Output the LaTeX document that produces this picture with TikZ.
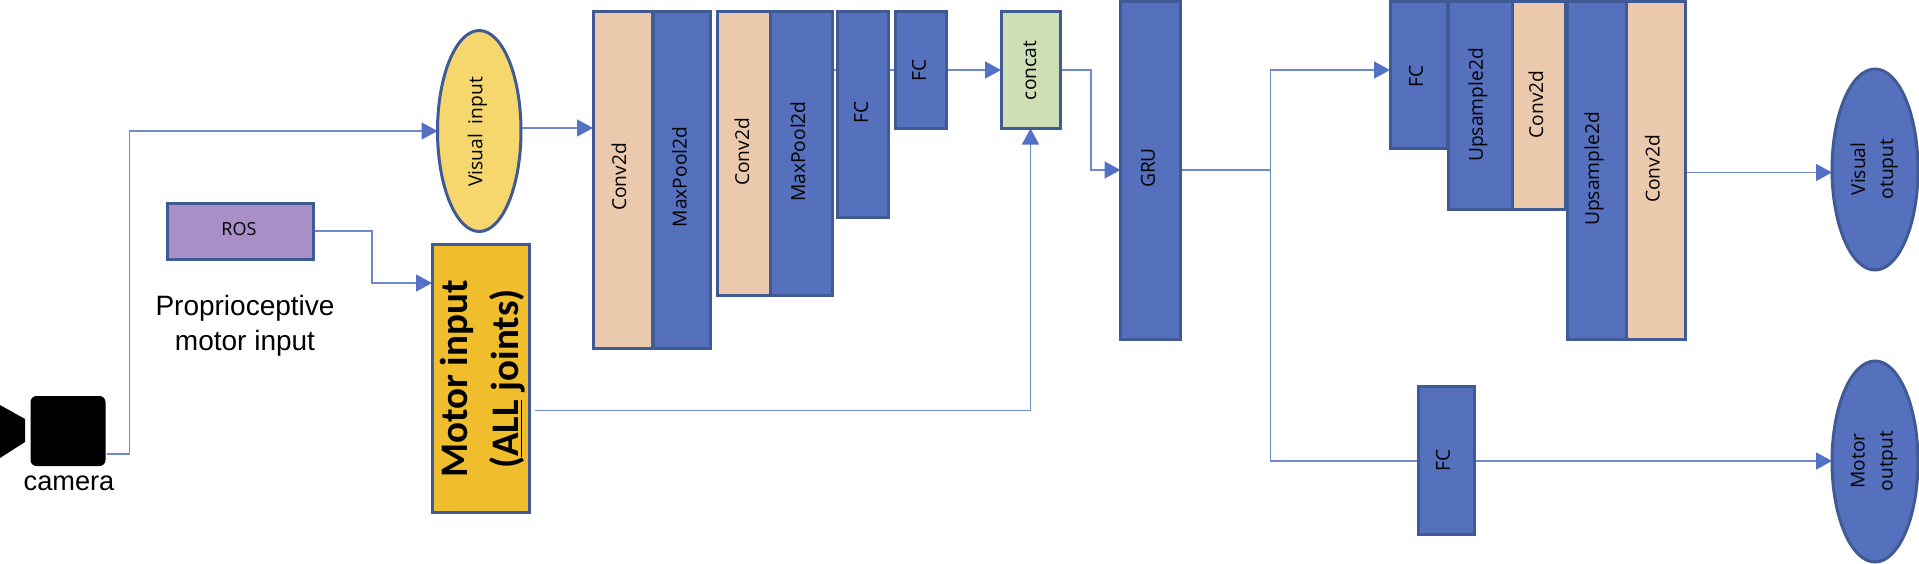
\documentclass[tikz,border=0pt]{standalone}
\usepackage{fontspec}
\setmainfont{Open Sans}
\newfontfamily\helv{Liberation Sans}
\newfontfamily\cali{Carlito}
\usetikzlibrary{arrows.meta,shapes.geometric,backgrounds}
\definecolor{blu}{HTML}{5571BE}
\definecolor{edge}{HTML}{3F5A94}
\definecolor{peach}{HTML}{EBC9AC}
\definecolor{grn}{HTML}{CFDFB5}
\definecolor{yel}{HTML}{F5D76E}
\definecolor{gold}{HTML}{F0BE2D}
\definecolor{purp}{HTML}{A98FC8}
\definecolor{wire}{HTML}{6F89CF}
\definecolor{tipc}{HTML}{5571C6}
\tikzset{
  blk/.style={draw=edge,line width=1.5pt,inner sep=0pt,outer sep=0pt,rectangle},
  ell/.style={draw=edge,line width=1.5pt,inner sep=0pt,outer sep=0pt,ellipse},
  lab/.style={rotate=90,inner sep=0pt,font=\fontsize{9.6}{11}\selectfont,align=center},
  conn/.style={draw=wire,line width=0.8pt},
  arr/.style={conn,-{Triangle[length=8pt,width=8.5pt,color=tipc]}},
}
% name, x0, y0, x1, y1, fill
\newcommand{\blkbox}[6]{\node[blk,fill=#6,minimum width=(#4-#2)*0.5pt,minimum height=(#5-#3)*0.5pt] (#1) at ({(#2+#4)/2},{(#3+#5)/2}) {};}
\newcommand{\ellbox}[6]{\node[ell,fill=#6,minimum width=(#4-#2)*0.5pt,minimum height=(#5-#3)*0.5pt] (#1) at ({(#2+#4)/2},{(#3+#5)/2}) {};}
\begin{document}
\begin{tikzpicture}[x=0.5pt,y=-0.5pt]
\useasboundingbox (0,0) rectangle (1919,563);
% boxes
\ellbox{vi}{437.5}{30.5}{521}{231.5}{yel}
\blkbox{ros}{167.5}{203}{313}{259}{purp}
\blkbox{mi}{432}{244}{529}{512}{gold}
\blkbox{c1}{593}{11}{652}{348}{peach}
\blkbox{m1}{653}{11}{710.5}{348}{blu}
\blkbox{c2}{717.5}{11}{770.5}{295.5}{peach}
\blkbox{m2}{770.5}{11}{832.5}{295.5}{blu}
\blkbox{f1}{837}{11}{888}{217.5}{blu}
\blkbox{f2}{895.5}{11}{946.5}{128.5}{blu}
\blkbox{cc}{1001}{11}{1060}{128.5}{grn}
\blkbox{gru}{1120.5}{1}{1180}{339}{blu}
\blkbox{f3}{1390}{1}{1447}{148}{blu}
\blkbox{u1}{1448.5}{1}{1512.5}{209}{blu}
\blkbox{c3}{1512.5}{1}{1565.5}{209}{peach}
\blkbox{u2}{1567.5}{1}{1626}{339}{blu}
\blkbox{c4}{1626}{1}{1685}{339}{peach}
\ellbox{vo}{1832}{69}{1918}{270}{blu}
\ellbox{mo}{1832}{361}{1918}{562}{blu}
\blkbox{f4}{1418}{386}{1474}{534}{blu}
% camera
\node[fill=black,rounded corners=3pt,minimum width=37.5pt,minimum height=35pt,inner sep=0pt,outer sep=0pt] (cam) at (68,431) {};
\fill[black] (0,405) -- (25,419) -- (25,442) -- (0,458) -- cycle;
% texts
\node[lab] (tvi) at (477.5,132) {Visual\ \ input};
\node[inner sep=0pt,font=\fontsize{9}{11}\selectfont] (tros) at (239,229) {ROS};
\node[lab,font=\cali\bfseries\fontsize{19.5}{25.5}\selectfont] (tmi) at (483,379) {Motor input\\(\underline{ALL} joints)};
\node[lab] (tc1) at (619,177) {Conv2d};
\node[lab] (tm1) at (679.5,177) {MaxPool2d};
\node[lab] (tc2) at (742,152) {Conv2d};
\node[lab] (tm2) at (798,151.5) {MaxPool2d};
\node[lab] (tf1) at (861,112) {FC};
\node[lab] (tf2) at (919,70.5) {FC};
\node[lab] (tcc) at (1030,70.5) {concat};
\node[lab] (tgru) at (1148,168) {GRU};
\node[lab] (tf3) at (1416,76) {FC};
\node[lab] (tu1) at (1478,105) {Upsample2d};
\node[lab] (tc3) at (1536,104.5) {Conv2d};
\node[lab] (tu2) at (1594,169) {Upsample2d};
\node[lab] (tc4) at (1652.5,169) {Conv2d};
\node[lab] (tf4) at (1443,460) {FC};
\node[lab,font=\fontsize{9.6}{14}\selectfont] (tvo) at (1874,169) {Visual\\otuput};
\node[lab,font=\fontsize{9.6}{14}\selectfont] (tmo) at (1874,461) {Motor\\output};
\node[inner sep=0pt,font=\helv\fontsize{13.6}{16}\selectfont] (tcam) at (69,483) {camera};
\node[inner sep=0pt,align=center,font=\helv\fontsize{14}{17.5}\selectfont] (tprop) at (245,325.5) {Proprioceptive\\motor input};
% connectors
\begin{scope}[on background layer]
\coordinate (camout) at (107,454);
\coordinate (miout) at (535,410.5);
\coordinate (split) at (1270.5,170);
\draw[arr] (camout) -- (129.5,454) -- (129.5,131) -- (vi.west |- 0,131);
\draw[arr] (vi.east |- 0,128) -- (c1.west |- 0,128);
\draw[arr] (ros.east |- 0,231) -- (372,231) -- (372,283) -- (mi.west |- 0,283);
\draw[arr] (miout) -| (cc.south);
\draw[arr] (m2.east |- 0,70) -- (cc.west |- 0,70);
\draw[arr] (cc.east |- 0,70) -- (1091,70) -- (1091,170) -- (gru.west |- 0,170);
\draw[conn] (gru.east |- 0,170) -- (split);
\draw[arr] (split) -- (1270.5,70) -- (f3.west |- 0,70);
\draw[conn] (split) -- (1270.5,461) -- (f4.west |- 0,461);
\draw[arr] (f4.east |- 0,461) -- (mo.west |- 0,461);
\draw[arr] (c4.east |- 0,172.5) -- (vo.west |- 0,172.5);
\end{scope}
\end{tikzpicture}
\end{document}
